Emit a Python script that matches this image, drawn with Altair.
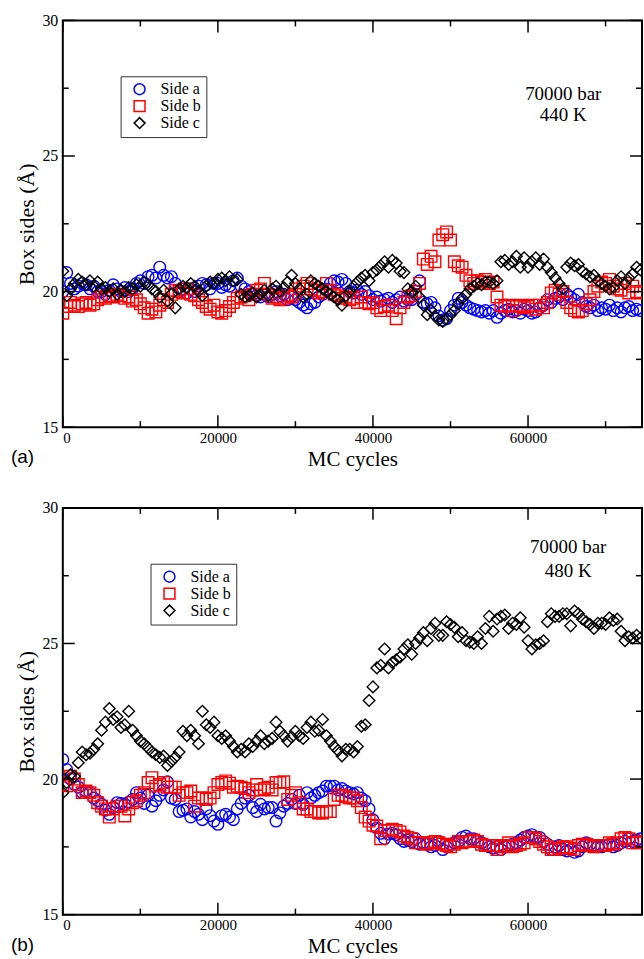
import altair as alt
import pandas as pd

# Monte Carlo cycle at which each box-side sample was recorded
cycles = list(range(0, 75000, 500))

# (a) 70000 bar, 440 K
a_side_a = [
    20.0, 20.7, 20.3, 20.1, 20.2, 20.3, 20.25, 20.1, 20.2, 20.0,
    20.0, 19.9, 20.05, 20.25, 20.1, 20.0, 20.15, 20.0, 20.1, 20.3,
    20.4, 20.3, 20.55, 20.6, 20.5, 20.9, 20.6, 20.5, 20.55, 20.3,
    20.0, 20.1, 19.95, 20.1, 20.0, 20.2, 20.3, 20.25, 20.1, 20.3,
    20.3, 20.15, 20.25, 20.2, 20.4, 20.5, 20.2, 20.1, 20.0, 19.9,
    19.85, 19.8, 19.9, 19.8, 19.9, 20.0, 19.85, 19.9, 19.7, 19.8,
    19.7, 19.6, 19.5, 19.4, 19.55, 19.6, 19.8, 19.9, 20.1, 20.3,
    20.4, 20.35, 20.45, 20.3, 20.0, 19.95, 20.05, 19.9, 20.0, 19.85,
    19.7, 19.8, 19.65, 19.7, 19.75, 19.6, 19.7, 19.8, 19.65, 19.7,
    19.7, 19.9, 20.4, 19.6, 19.55, 19.6, 19.4, 19.1, 18.95, 19.0,
    19.3, 19.5, 19.75, 19.6, 19.5, 19.4, 19.35, 19.3, 19.25, 19.3,
    19.2, 19.3, 19.05, 19.2, 19.3, 19.35, 19.25, 19.3, 19.2, 19.35,
    19.3, 19.2, 19.25, 19.4, 19.5, 19.7, 19.6, 19.75, 19.8, 19.7,
    19.9, 19.8, 19.7, 19.9, 19.6, 19.45, 19.4, 19.5, 19.3, 19.4,
    19.35, 19.5, 19.3, 19.4, 19.25, 19.4, 19.45, 19.3, 19.35, 19.3,
]
a_side_b = [
    19.2, 19.45, 19.6, 19.5, 19.45, 19.55, 19.6, 19.5, 19.55, 19.7,
    19.8, 19.75, 19.85, 19.8, 19.9, 19.85, 19.75, 19.8, 19.65, 19.7,
    19.55, 19.4, 19.2, 19.35, 19.25, 19.5, 19.7, 19.6, 19.9, 20.05,
    20.0, 19.95, 20.1, 19.9, 19.85, 19.7, 19.6, 19.45, 19.35, 19.5,
    19.25, 19.2, 19.3, 19.45, 19.6, 19.75, 19.8, 19.85, 19.7, 19.9,
    20.05, 20.1, 20.3, 19.9, 19.75, 19.8, 19.7, 19.75, 19.85, 19.8,
    19.9, 20.1, 20.2, 20.3, 20.1, 20.05, 19.95, 20.0, 20.3, 20.05,
    19.9, 19.85, 19.75, 19.8, 19.7, 19.75, 19.6, 19.8, 19.6, 19.55,
    19.6, 19.4, 19.3, 19.45, 19.5, 19.3, 19.0, 19.4, 19.6, 19.8,
    19.85, 20.0, 20.3, 21.2, 21.0, 21.3, 21.1, 21.9, 22.1, 22.2,
    21.9, 21.1, 20.95, 20.9, 20.6, 20.4, 20.3, 20.4, 20.35, 20.45,
    20.3, 20.35, 19.8, 19.5, 19.45, 19.5, 19.3, 19.45, 19.5, 19.4,
    19.45, 19.5, 19.35, 19.5, 19.4, 19.6, 19.95, 20.05, 19.9, 20.0,
    19.6, 19.4, 19.3, 19.25, 19.3, 19.55, 19.7, 20.0, 20.2, 20.35,
    20.3, 20.45, 20.2, 20.1, 20.05, 20.3, 19.95, 20.2, 20.0, 19.95,
]
a_side_c = [
    20.75, 19.85, 20.1, 20.3, 20.45, 20.35, 20.25, 20.4, 20.2, 20.35,
    20.1, 20.15, 20.0, 20.1, 19.9, 20.05, 20.0, 20.15, 20.1, 20.25,
    20.2, 20.35, 20.25, 20.1, 20.0, 19.8, 20.05, 19.65, 19.9, 19.4,
    20.1, 20.2, 20.15, 20.3, 20.2, 20.0, 19.85, 20.2, 20.35, 20.3,
    20.45, 20.5, 20.4, 20.55, 20.4, 20.45, 19.9, 19.8, 19.85, 19.95,
    19.8, 19.9, 20.05, 19.85, 20.1, 20.2, 20.0, 20.15, 20.35, 20.6,
    20.3, 20.1, 19.8, 19.9, 20.4, 20.3, 20.2, 20.1, 20.0, 19.9,
    19.8, 19.7, 19.5, 19.85, 20.0, 20.2, 20.35, 20.5, 20.6, 20.4,
    20.7, 20.8, 20.95, 21.1, 20.9, 21.15, 21.05, 20.75, 20.7, 20.1,
    20.0, 20.2, 19.8, 19.5, 19.15, 19.3, 19.1, 18.95, 18.9, 19.0,
    19.15, 19.3, 19.55, 19.75, 19.9, 20.1, 20.2, 20.3, 20.25, 20.35,
    20.35, 20.3, 20.4, 21.1, 21.15, 21.0, 21.1, 21.3, 20.9, 21.25,
    20.9, 21.1, 21.25, 21.0, 21.2, 20.9, 20.7, 20.5, 20.3, 20.1,
    20.9, 21.05, 20.95, 21.0, 20.75, 20.65, 20.55, 20.6, 20.4, 20.3,
    20.2, 20.1, 20.15, 20.4, 20.55, 20.3, 20.5, 20.65, 20.9, 20.8,
]

# (b) 70000 bar, 480 K
b_side_a = [
    20.72, 20.35, 20.0, 19.8, 19.7, 19.5, 19.55, 19.5, 19.3, 19.2,
    19.07, 18.85, 18.7, 18.95, 19.13, 19.1, 19.07, 19.15, 19.25, 19.5,
    19.3, 19.1, 19.4, 19.0, 19.2, 19.4, 19.6, 19.9, 19.3, 19.25,
    18.8, 18.85, 18.9, 18.6, 18.8, 18.7, 18.5, 18.9, 18.65, 18.45,
    18.33, 18.65, 18.7, 18.6, 18.5, 18.9, 19.1, 19.3, 19.4, 18.95,
    18.8, 19.07, 18.9, 18.95, 18.95, 18.45, 18.75, 19.0, 19.1, 19.25,
    19.1, 19.4, 19.07, 19.5, 19.3, 19.4, 19.5, 19.56, 19.74, 19.74,
    19.74, 19.6, 19.65, 19.56, 19.5, 19.45, 19.5, 19.3, 19.2, 18.9,
    18.5, 18.2, 18.0, 17.8, 17.97, 18.0, 17.95, 17.8, 17.7, 17.75,
    17.7, 17.8, 17.6, 17.65, 17.6, 17.5, 17.55, 17.7, 17.4, 17.5,
    17.6, 17.65, 17.7, 17.85, 17.9, 17.8, 17.8, 17.7, 17.65, 17.6,
    17.5, 17.45, 17.5, 17.4, 17.5, 17.55, 17.6, 17.65, 17.75, 17.85,
    17.9, 17.95, 17.85, 17.85, 17.7, 17.6, 17.4, 17.5, 17.55, 17.4,
    17.35, 17.4, 17.3, 17.35, 17.5, 17.65, 17.6, 17.55, 17.5, 17.5,
    17.55, 17.6, 17.5, 17.55, 17.65, 17.7, 17.8, 17.7, 17.75, 17.8,
]
b_side_b = [
    19.8, 19.75, 20.1, 20.0, 19.8, 19.5, 19.56, 19.5, 19.4, 19.13,
    19.0, 18.9, 18.6, 18.9, 19.0, 19.0, 18.64, 18.9, 19.13, 19.2,
    19.4, 19.5, 19.87, 20.05, 19.74, 19.8, 19.87, 19.7, 19.7, 19.7,
    19.4, 19.5, 19.5, 19.56, 19.0, 19.3, 19.3, 19.25, 19.3, 19.5,
    19.8, 19.87, 19.93, 19.85, 19.7, 19.74, 19.7, 19.65, 19.5, 19.6,
    19.8, 19.6, 19.65, 19.7, 19.6, 19.87, 19.87, 19.9, 19.25, 19.4,
    19.5, 19.13, 18.9, 18.9, 18.8, 18.8, 18.75, 18.75, 18.8, 18.8,
    19.25, 19.4, 19.4, 19.35, 19.3, 19.3, 19.2, 18.95, 18.6, 18.45,
    18.3, 18.27, 17.8, 18.1, 18.1, 18.15, 18.1, 18.05, 17.9, 17.85,
    17.8, 17.65, 17.65, 17.65, 17.6, 17.65, 17.7, 17.65, 17.6, 17.55,
    17.5, 17.6, 17.7, 17.65, 17.7, 17.7, 17.75, 17.7, 17.6, 17.55,
    17.55, 17.55, 17.4, 17.5, 17.55, 17.65, 17.5, 17.55, 17.6, 17.65,
    17.85, 17.85, 17.8, 17.7, 17.6, 17.5, 17.4, 17.4, 17.45, 17.5,
    17.5, 17.45, 17.4, 17.55, 17.6, 17.6, 17.55, 17.5, 17.55, 17.55,
    17.55, 17.65, 17.6, 17.65, 17.8, 17.85, 17.8, 17.65, 17.65, 17.7,
]
b_side_c = [
    19.5, 19.87, 20.17, 20.1, 20.6, 21.0, 20.9, 20.95, 21.1, 21.3,
    21.8, 22.1, 22.6, 22.2, 22.3, 21.9, 22.0, 22.5, 21.8, 21.6,
    21.4, 21.3, 21.15, 21.0, 20.9, 20.8, 20.85, 20.5, 20.65, 20.8,
    21.0, 21.76, 21.6, 21.8, 21.6, 21.3, 22.5, 22.0, 21.9, 22.1,
    21.6, 21.5, 21.6, 21.4, 21.2, 21.0, 21.1, 21.0, 21.3, 21.2,
    21.4, 21.6, 21.3, 21.4, 21.5, 22.1, 21.76, 21.6, 21.4, 21.55,
    21.76, 21.6, 21.5, 21.9, 22.1, 21.76, 21.8, 22.2, 21.6, 21.4,
    21.2, 21.05, 20.85, 21.1, 21.1, 21.0, 21.2, 21.95, 22.0, 22.9,
    23.4, 24.1, 24.2, 24.8, 24.1, 24.3, 24.4, 24.5, 24.8, 24.95,
    24.6, 25.0, 25.2, 25.4, 25.1, 25.55, 25.75, 25.3, 25.3, 25.8,
    25.7, 25.6, 25.25, 25.4, 25.1, 25.05, 25.0, 25.25, 25.0, 25.55,
    26.0, 25.45, 25.9, 26.0, 26.05, 25.55, 25.75, 25.7, 25.95, 25.6,
    25.1, 24.8, 24.95, 25.0, 25.1, 25.8, 26.1, 26.0, 26.0, 26.1,
    26.1, 25.65, 26.2, 26.1, 25.9, 25.8, 25.7, 25.55, 25.75, 25.75,
    25.7, 25.95, 25.85, 25.9, 25.45, 25.1, 25.25, 25.2, 25.3, 25.2,
]

series_names = ["Side a", "Side b", "Side c"]
series_colors = ["#0000ff", "#ff0000", "#000000"]
series_shapes = ["circle", "square", "diamond"]

x_labels = [0, 20000, 40000, 60000]
x_minor = [10000, 30000, 50000, 70000]
y_labels = [15, 20, 25, 30]
y_minor = [17.5, 22.5, 27.5]

SERIF = "Liberation Serif"
SANS = "Liberation Sans"
W, H = 581, 408
X_MAX = 74700
XS = alt.Scale(domain=[0, X_MAX], nice=False, zero=False)
YS = alt.Scale(domain=[15, 30], nice=False, zero=False)

X_AXIS = alt.Axis(
    values=x_labels, format="d", ticks=False, domain=False, grid=False,
    labelFont=SERIF, labelFontSize=15, labelColor="black", labelPadding=3,
    title="MC cycles", titleFont=SERIF, titleFontSize=21,
    titleFontWeight="normal", titleColor="black", titlePadding=3,
)
Y_AXIS = alt.Axis(
    values=y_labels, format="d", ticks=False, domain=False, grid=False,
    labelFont=SERIF, labelFontSize=16, labelColor="black", labelPadding=5,
    title="Box sides (Å)", titleFont=SERIF, titleFontSize=22,
    titleFontWeight="normal", titleColor="black", titlePadding=3,
)


def frame_ticks():
    """Inward-pointing major/minor ticks on all four sides of the frame."""
    layers = []
    for vals, length in ((x_labels, 12), (x_minor, 6)):
        d = pd.DataFrame({"cycle": vals})
        base = alt.Chart(d).mark_rule(color="black", strokeWidth=1.5)
        xe = alt.X("cycle:Q", scale=XS, axis=X_AXIS)
        layers.append(base.encode(x=xe, y=alt.value(H), y2=alt.value(H - length)))
        layers.append(base.encode(x=xe, y=alt.value(0), y2=alt.value(length)))
    for vals, length in ((y_labels, 12), (y_minor, 6)):
        d = pd.DataFrame({"length": vals})
        base = alt.Chart(d).mark_rule(color="black", strokeWidth=1.5)
        ye = alt.Y("length:Q", scale=YS, axis=Y_AXIS)
        layers.append(base.encode(y=ye, x=alt.value(0), x2=alt.value(length)))
        layers.append(base.encode(y=ye, x=alt.value(W), x2=alt.value(W - length)))
    return layers


def panel(sa, sb, sc, note, note_xy, line_h, legend_xy, tag):
    df = pd.DataFrame({"cycle": cycles, "Side a": sa, "Side b": sb, "Side c": sc})
    df = df.melt(id_vars="cycle", var_name="series", value_name="length")

    legend = alt.Legend(
        orient="none", legendX=legend_xy[0], legendY=legend_xy[1], title=None,
        padding=5, strokeColor="#333333", fillColor="white",
        labelFont=SERIF, labelFontSize=16, labelColor="black",
        labelOffset=13, symbolOffset=6, symbolSize=120, symbolStrokeWidth=1.5,
        rowPadding=-2,
    )

    points = alt.Chart(df).mark_point(
        filled=False, size=135, strokeWidth=1.4, opacity=1, clip=True
    ).encode(
        x=alt.X("cycle:Q", scale=XS, axis=X_AXIS),
        y=alt.Y("length:Q", scale=YS, axis=Y_AXIS),
        color=alt.Color("series:N", scale=alt.Scale(domain=series_names, range=series_colors),
                        legend=legend),
        shape=alt.Shape("series:N", scale=alt.Scale(domain=series_names, range=series_shapes),
                        legend=legend),
    )

    conditions = alt.Chart(pd.DataFrame({"note": [note]})).mark_text(
        font=SERIF, fontSize=19, align="center", baseline="alphabetic",
        lineBreak="\n", lineHeight=line_h, color="black",
    ).encode(text="note:N", x=alt.value(note_xy[0]), y=alt.value(note_xy[1]))

    label = alt.Chart(pd.DataFrame({"tag": [tag]})).mark_text(
        font=SANS, fontSize=19, align="left", baseline="alphabetic", color="black",
    ).encode(text="tag:N", x=alt.value(-52), y=alt.value(H + 36))

    return alt.layer(points, *frame_ticks(), conditions, label).properties(width=W, height=H)


top = panel(a_side_a, a_side_b, a_side_c, "70000 bar\n440 K", (502, 80), 21, (58, 56), "(a)")
bottom = panel(b_side_a, b_side_b, b_side_c, "70000 bar\n480 K", (507, 45), 24, (88, 56), "(b)")

chart = alt.vconcat(top, bottom, spacing=29).resolve_scale(
    color="independent", shape="independent"
).properties(
    padding={"left": 10, "top": 10, "right": 0, "bottom": 0}
).configure_view(stroke="black", strokeWidth=2)

chart.save("out.html", embed_options={"renderer": "svg", "actions": False})
